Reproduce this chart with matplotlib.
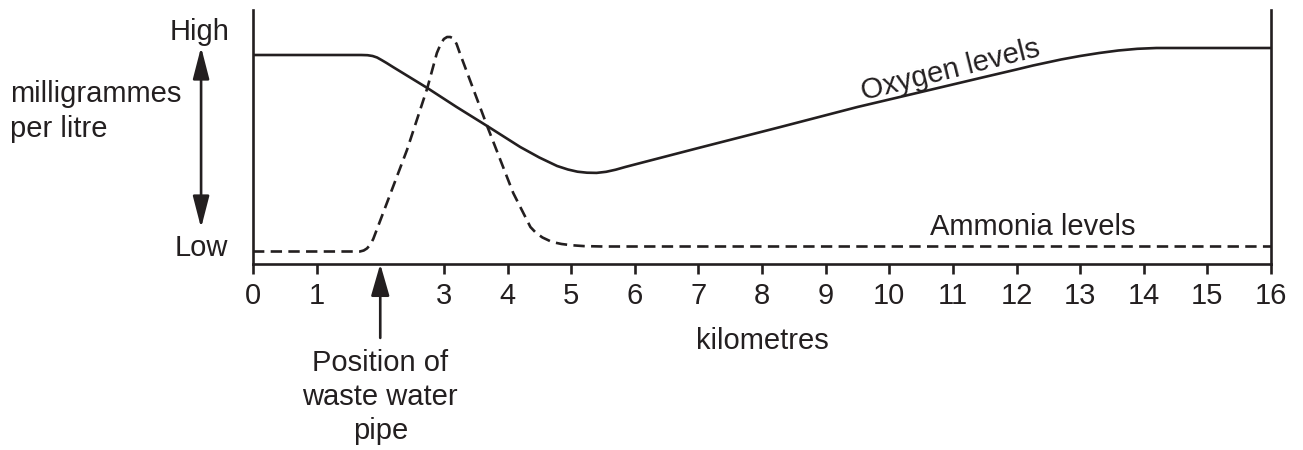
import matplotlib
matplotlib.use('Agg')
import matplotlib.pyplot as plt

plt.rcParams['font.family'] = ['Liberation Sans', 'DejaVu Sans']

ink = '#231f20'

# distance along river (km) and relative level (0 = axis, 254 = top)
oxy_km = [0, 1.0, 1.7, 1.8, 1.88, 1.95, 2.02, 2.1, 2.2, 2.74, 3.2, 3.68, 4.2, 4.5,
          4.78, 4.95, 5.1, 5.25, 5.4, 5.55, 5.7, 5.85, 6.0, 6.2, 7.0, 8.29, 9.5, 10.5,
          11.43, 12.0, 12.26, 12.7, 13.0, 13.3, 13.6, 13.9, 14.2, 15.0, 16.0]
oxy_lvl = [209, 209, 209, 208.8, 208, 206.5, 204, 201, 197, 176, 157, 138, 117, 106.5,
           98, 94.5, 92.3, 91.3, 91.1, 92.2, 94.3, 97, 99.5, 102.8, 116, 137, 157, 172,
           186, 194.5, 198.5, 204.5, 208, 211, 213.5, 215.2, 216, 216, 216]

amm_km = [0, 1.0, 1.68, 1.74, 1.79, 1.84, 1.89, 2.42, 2.74, 2.89, 2.95, 3.0, 3.05,
          3.1, 3.15, 3.2, 3.25, 3.68, 4.09, 4.36, 4.45, 4.55, 4.7, 4.85, 5.0, 5.2,
          5.5, 16.0]
amm_lvl = [12.5, 12.5, 12.5, 13.5, 15.5, 19, 25, 114, 176, 211, 220, 225, 227,
           227, 225.5, 220, 211, 138, 71, 37, 31, 26.5, 22, 20, 18.8, 17.9,
           17.5, 17.5]

ticks = [0, 1, 3, 4, 5, 6, 7, 8, 9, 10, 11, 12, 13, 14, 15, 16]
pipe_km = 2

fig = plt.figure(figsize=(13.03, 4.5), dpi=100)
ax = fig.add_axes([253 / 1303, 1 - 264 / 450, 1018 / 1303, 254 / 450])

ax.plot(oxy_km, oxy_lvl, color=ink, lw=1.9, solid_joinstyle='round')
ax.plot(amm_km, amm_lvl, color=ink, lw=1.9, linestyle=(0, (4.3, 2.4)))

ax.set_xlim(0, 16)
ax.set_ylim(0, 254)
ax.spines['top'].set_visible(False)
for s in ['left', 'right', 'bottom']:
    ax.spines[s].set_linewidth(1.9)
    ax.spines[s].set_color(ink)

ax.set_xticks(ticks)
ax.set_xticklabels([str(t) for t in ticks])
ax.set_yticks([])
ax.tick_params(axis='x', direction='out', length=7, width=1.9, color=ink,
               labelsize=21, labelcolor=ink, pad=6)
ax.set_xlabel('kilometres', fontsize=21, color=ink, labelpad=12)

ax.text(10.96, 194, 'Oxygen levels', rotation=14, fontsize=21, color=ink,
        ha='center', va='center')
ax.text(12.25, 37, 'Ammonia levels', fontsize=21, color=ink,
        ha='center', va='center')

ax.text(-0.023, 0.913, 'High', transform=ax.transAxes, fontsize=21, color=ink,
        ha='right', va='center')
ax.text(-0.025, 0.063, 'Low', transform=ax.transAxes, fontsize=21, color=ink,
        ha='right', va='center')
ax.text(-0.239, 0.600, 'milligrammes\nper litre', transform=ax.transAxes,
        fontsize=21, color=ink, ha='left', va='center', linespacing=1.3)

ax.annotate('', xy=(-0.051, 0.854), xytext=(-0.051, 0.142),
            xycoords='axes fraction', textcoords='axes fraction',
            arrowprops=dict(arrowstyle='<|-|>,head_length=0.97,head_width=0.25',
                            mutation_scale=20, color=ink, lw=1.9,
                            shrinkA=0, shrinkB=0))

ax.annotate('', xy=(pipe_km, 0), xytext=(pipe_km, -0.291),
            xycoords=('data', 'axes fraction'), textcoords=('data', 'axes fraction'),
            annotation_clip=False,
            arrowprops=dict(arrowstyle='-|>,head_length=0.97,head_width=0.28',
                            mutation_scale=20, color=ink, lw=1.9,
                            shrinkA=0, shrinkB=0))
ax.text(pipe_km, -0.524, 'Position of\nwaste water\npipe', transform=ax.get_xaxis_transform(),
        fontsize=21, color=ink, ha='center', va='center', linespacing=1.27)

fig.savefig('out.png', dpi=100)
